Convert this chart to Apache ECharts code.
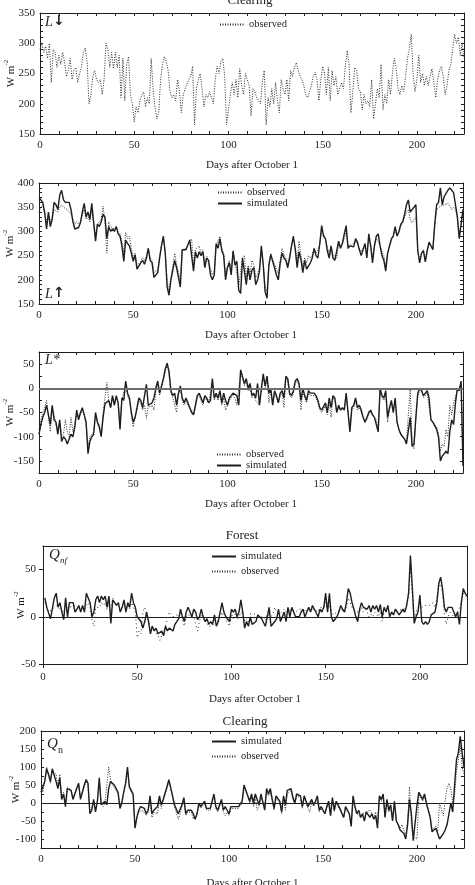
<!DOCTYPE html>
<html><head><meta charset="utf-8">
<script src="https://cdn.jsdelivr.net/npm/echarts@6/dist/echarts.min.js"></script>
<style>html,body{margin:0;padding:0;background:#fff}#c{width:475px;height:885px}</style>
</head><body><div id="c"></div>
<script>
// ---------- data (daily values) ----------
const xTickLabels = [0, 50, 100, 150, 200];

// Panel 1: L-down, clearing, observed (days 0..225)
const lDownStart = 0;
const lDownObs = [290,300,285,295,275,300,235,290,285,260,
280,265,285,270,245,255,275,240,255,260,
235,250,260,285,292,270,200,215,245,255,
240,235,240,215,240,300,290,260,285,258,
285,260,280,210,275,205,265,278,215,200,
170,195,185,205,215,220,195,210,200,275,
225,195,175,185,240,265,278,270,255,220,
210,215,205,240,220,185,215,225,225,240,
245,262,165,225,240,250,225,195,215,210,
220,210,200,240,262,250,270,275,245,165,
190,215,235,215,240,210,258,230,215,250,
248,230,180,225,220,210,205,200,235,255,
165,210,195,225,200,235,205,185,240,225,
215,240,205,255,245,260,268,255,245,240,
230,215,210,220,230,245,252,240,205,240,
262,250,215,260,205,255,230,245,215,225,
235,225,260,288,265,185,220,260,255,225,
220,190,215,200,205,195,240,175,200,225,
210,265,190,215,200,240,215,250,275,260,
225,215,230,220,245,275,290,315,250,220,
240,280,235,250,230,245,230,245,258,235,
210,240,255,262,245,215,230,255,265,290,
315,300,310,280,300,275];
const p1YLabels = [150, 200, 250, 300, 350];

// Panel 2: L-up (days 0..225)
const lUpStart = 0;
const lUpSim = [370,368,360,340,305,340,310,325,360,355,
345,375,385,365,360,360,360,345,320,305,
305,308,318,340,358,330,340,325,358,355,
280,315,310,320,335,330,285,310,300,305,
300,310,295,290,270,238,282,275,270,255,
238,252,222,220,235,240,232,245,265,240,
235,205,205,215,245,270,290,255,185,168,
200,220,240,225,205,185,262,262,262,265,
282,285,218,258,245,258,250,258,225,245,
240,210,200,210,275,265,285,260,250,200,
225,235,210,260,230,238,178,172,245,248,
190,225,200,220,225,190,200,218,270,230,
175,162,230,252,238,225,210,200,235,255,
245,240,225,245,270,290,262,225,258,242,
215,240,222,225,235,245,265,250,245,275,
312,290,285,260,245,270,245,240,238,280,
265,275,295,312,265,270,270,268,285,278,
262,250,248,275,245,295,270,235,270,290,
295,270,250,240,218,255,270,285,290,310,
290,300,315,320,335,355,365,340,345,342,
355,260,235,255,260,237,260,278,275,262,
315,355,360,390,355,372,370,385,390,385,
380,380,330,285,285,345];
const lUpObs = [340,350,355,335,320,335,320,330,345,345,
340,350,355,350,350,345,340,335,325,315,
320,315,320,335,345,325,330,320,345,345,
290,315,315,325,352,320,255,320,310,310,
305,310,300,295,280,255,298,285,290,265,
245,255,230,228,238,245,240,250,265,245,
240,215,212,220,248,272,285,258,195,178,
205,228,255,232,215,198,262,265,265,268,
280,285,230,262,262,270,255,262,235,248,
245,222,210,218,270,268,290,265,255,210,
228,240,220,258,238,242,188,185,245,250,
205,230,212,240,232,205,212,225,262,235,
185,175,235,255,242,232,222,212,240,265,
252,245,232,250,268,285,268,240,280,250,
228,245,235,250,245,252,265,255,252,272,
300,295,285,268,255,268,252,248,245,275,
268,272,285,300,270,272,272,270,280,278,
265,258,255,272,255,285,272,248,268,285,
288,272,258,250,228,255,268,280,290,300,
292,298,310,318,330,340,345,325,318,315,
330,262,240,255,262,242,262,275,275,265,
310,345,348,352,348,355,352,358,352,345,
350,345,330,290,290,340];
const p2YLabels = [150, 200, 250, 300, 350, 400];

// Panel 3: L* (days 0..225)
const lStarStart = 0;
const lStarSim = [-95,-75,-60,-50,-35,-38,-75,-35,-65,-70,
-95,-65,-110,-100,-105,-115,-118,-95,-100,-80,
-45,-65,-50,-40,-55,-70,-135,-110,-100,-95,
-50,-70,-80,-100,-60,-32,-35,-25,-40,-15,
-35,-15,-30,-85,-20,-25,15,-10,-20,-50,
-70,-60,-40,-20,-25,-40,-15,8,-35,-35,
-30,-20,0,15,-10,5,20,40,52,35,
-5,-15,-10,-35,-10,5,-20,-30,-20,-30,
-40,-50,-55,-35,-15,-10,-20,-30,-15,-20,
-30,-25,20,-20,-10,-20,-5,-30,-10,-25,
-35,-20,-15,-10,-10,-15,-35,38,38,10,
20,0,10,-15,-10,-20,10,-35,0,30,
5,25,-10,0,-35,-5,-15,-30,-10,-5,
-20,25,20,-10,-15,-5,15,20,10,-25,
0,-15,-25,-5,-10,-10,-10,-15,-25,-40,
-45,-45,-30,-50,-20,-40,-15,-20,-50,-35,
-45,-40,-45,-10,-50,-90,-40,-35,-20,-40,
-35,-45,-60,-70,-70,-50,-45,-55,-60,-60,
-90,0,-15,-20,-5,-60,-40,-25,-50,-20,
-70,-85,-95,-100,-105,-115,-115,-60,-120,-115,
-60,-10,0,-5,-15,-15,-5,-20,-65,-70,
-70,-85,-100,-150,-140,-140,-130,-135,-90,-65,
-75,-30,0,-5,15,-160];
const lStarObs = [-85,-65,-50,-40,-25,-25,-90,-40,-55,-75,
-85,-70,-100,-95,-65,-90,-100,-60,-90,-75,
-50,-60,-55,-45,-55,-75,-120,-100,-95,-90,
-55,-70,-75,-95,-50,-20,12,-25,-40,-20,
-35,-20,-30,-70,-25,-25,10,-15,-25,-55,
-80,-60,-45,-25,-30,-45,-35,-62,-35,-40,
-35,-45,-5,10,-15,0,15,35,48,30,
-10,-20,-20,-50,-15,0,-25,-35,-25,-35,
-40,-45,-55,-40,-20,-15,-25,-35,-20,-25,
-30,-30,15,-25,-15,-25,-10,-35,-20,-45,
-35,-25,-20,-15,-20,-35,-35,35,35,5,
15,-5,5,-20,-15,-25,-25,-35,-5,25,
0,20,-30,-5,-35,-10,-20,-30,-15,-10,
-40,20,15,-15,-20,-10,10,15,5,-45,
-5,-20,-30,-10,-15,-15,-15,-20,-30,-45,
-50,-45,-35,-55,-30,-60,-20,-25,-50,-40,
-45,-45,-40,-15,-50,-80,-45,-40,-25,-45,
-40,-50,-60,-70,-65,-55,-50,-55,-60,-65,
-85,-5,-20,-25,-10,-70,-45,-30,-50,-25,
-70,-85,-95,-100,-100,-110,-110,0,-115,-125,
-60,-15,-5,0,-20,-20,-10,-40,-65,-70,
-70,-80,-95,-130,-115,-120,-85,-100,-35,-55,
-30,-30,-5,-5,10,-160];
const p3YLabels = [-150, -100, -50, 0, 50];

// Panel 4: Forest Q_nf (days 1..225)
const qnfStart = 1;
const qnfSim = [20,10,8,-2,0,20,25,10,15,5,
-3,20,0,15,15,15,5,8,12,5,
12,5,25,27,15,0,5,18,22,15,
22,18,22,10,22,-7,18,15,12,15,
5,10,18,5,15,10,25,15,10,0,
0,-5,-12,-5,5,-5,-18,-10,-15,-12,
-18,-20,-15,-20,-10,-15,-12,-10,-15,-8,
-5,-2,8,0,-5,5,10,5,0,8,
5,-3,0,8,0,-5,-2,-8,-5,-8,
2,-10,-5,5,15,5,0,2,-5,8,
5,8,0,5,18,5,-12,-5,-10,0,
-8,-10,-5,2,0,-2,0,-10,0,10,
-10,-8,-5,-2,8,-5,0,5,-5,10,
0,10,8,0,2,0,5,8,0,5,
10,5,12,8,10,0,8,5,10,25,
5,25,0,-5,-5,0,5,12,8,5,
15,30,25,15,8,0,-5,8,15,10,
12,8,12,5,12,8,12,5,13,0,
10,5,12,0,5,2,8,5,2,5,
8,5,12,25,65,30,-7,0,5,23,
-5,-8,-5,-8,-5,2,0,5,15,35,
42,30,10,5,10,8,10,5,0,5,
-8,15,30,25,22];
const qnfObs = [15,10,5,5,8,10,12,10,8,8,
5,10,8,10,12,12,10,10,8,8,
10,8,12,15,10,-3,-10,10,12,10,
15,12,15,8,15,5,20,15,12,12,
8,10,12,8,12,8,15,10,5,-22,
-15,-18,5,10,8,-5,-10,-8,-15,-15,
-20,-25,-20,-15,-10,-10,5,3,0,0,
2,-2,5,-2,-10,0,3,0,-2,0,
-8,-15,-5,2,-2,-5,-5,-10,-8,-10,
-2,-8,-3,0,5,0,-3,-2,-10,3,
-2,3,-3,0,5,2,-5,-2,-5,3,
3,3,3,2,2,0,2,-3,3,3,
0,3,10,5,5,3,5,8,5,10,
5,8,8,5,5,8,8,8,5,8,
10,8,10,8,8,5,10,8,10,15,
8,12,5,2,3,5,5,8,8,5,
10,20,15,10,8,5,3,5,10,5,
8,5,0,3,0,5,3,0,5,-5,
5,3,8,10,5,5,8,5,3,8,
5,8,10,20,55,25,-5,5,10,12,
10,12,12,10,12,10,15,10,12,30,
35,25,5,-8,0,5,5,0,0,5,
10,15,25,22,20];
const p4YLabels = [-50, 0, 50];

// Panel 5: Clearing Q_n (days 0..225)
const qnStart = 0;
const qnSim = [30,25,60,95,80,60,95,100,60,40,
70,10,25,-10,40,35,35,10,5,40,
55,10,30,50,65,55,-30,-20,10,-25,
5,70,-5,-5,5,-5,40,60,55,50,
40,30,-15,0,30,55,100,45,35,25,
-70,-40,-20,-10,-10,-15,-30,-20,20,-30,
-20,-20,-10,20,-5,10,10,45,65,60,
20,-5,0,-30,-25,-5,15,-30,-20,-25,
-20,-30,-45,-30,0,-10,-10,5,-15,-20,
-15,-10,25,-10,-20,-15,10,-20,-10,-20,
-30,-10,-5,-10,-5,-10,-10,5,50,35,
30,5,25,0,25,10,-5,25,30,-20,
40,25,40,10,-15,20,15,5,-25,20,
-5,35,30,40,15,0,25,20,20,-10,
20,5,-10,-5,10,-5,5,20,-20,-10,
-10,-30,-10,5,-35,15,-20,5,0,-15,
-20,-40,-10,-15,-30,-65,20,-10,-30,-20,
-40,-30,-50,-25,-30,-40,-30,-45,-35,-70,
20,10,25,-40,10,-20,-5,-50,5,-50,
-60,-75,-80,-85,-100,-60,10,-30,-105,-100,
-5,30,25,10,25,0,5,-40,-80,-75,
-70,-85,-100,-100,-85,-75,-60,-30,0,-25,
50,120,140,185,140,100];
const qnObs = [40,30,65,100,75,55,90,95,80,45,
80,20,30,0,45,40,35,15,10,40,
50,15,30,45,60,50,-25,-15,5,-20,
5,60,0,-10,0,0,100,65,50,45,
35,25,-10,5,30,50,90,40,30,20,
-65,-40,-25,-20,-20,-20,-35,-25,10,-40,
-25,-25,-30,10,-15,5,5,40,60,55,
15,-10,-10,-45,-30,-10,10,-35,-25,-30,
-25,-45,-40,-30,-5,-15,-15,0,-20,-25,
-20,-15,20,-15,-25,-20,5,-25,-35,-25,
-35,-15,-10,-15,-10,-15,-20,0,45,30,
20,0,15,-10,15,-20,-10,15,20,-10,
30,20,30,5,-20,15,10,0,-30,10,
-20,25,25,35,10,-5,20,15,15,-15,
15,0,-15,-25,5,-10,0,10,-25,-15,
-20,-30,-15,0,-35,10,-25,0,-5,-20,
-25,-40,-15,-20,-30,-60,15,-15,-30,-25,
-40,-30,-35,-25,-30,-20,-30,-40,-25,-60,
15,5,20,-35,5,-25,-10,-45,0,-50,
-55,-70,-60,-75,-90,-55,45,-60,-95,-90,
-100,25,20,5,20,-5,0,-35,-75,-70,
-65,-80,0,5,-35,10,40,55,40,0,
20,90,120,160,100,80];
const p5YLabels = [-100, -50, 0, 50, 100, 150, 200];

// ---------- chart ----------
const FONT = '"Liberation Serif", "Times New Roman", serif';
const INK = '#1e1e1e';
const toPairs = (start, vals) => vals.map((v, i) => [start + i, v]);

const panels = [
  { grid:{left:40,top:13,width:424,height:121}, yMin:150, yMax:350, yStep:10, yLabels:p1YLabels, yNameGap:23, xNameGap:26, ticksOut:false,
    series:[{name:'observed', start:lDownStart, data:lDownObs, dash:[1,1.5]}],
    legend:{left:219, top:19, itemGap:0, data:['observed']}, zero:null },
  { grid:{left:39,top:183,width:424,height:121}, yMin:150, yMax:400, yStep:10, yLabels:p2YLabels, yNameGap:23, xNameGap:26, ticksOut:false,
    series:[{name:'observed', start:lUpStart, data:lUpObs, dash:[1,1.5]},{name:'simulated', start:lUpStart, data:lUpSim}],
    legend:{left:217, top:187, itemGap:0, data:['observed','simulated']}, zero:null },
  { grid:{left:39,top:352,width:424,height:121}, yMin:-175, yMax:75, yStep:25, yLabels:p3YLabels, yNameGap:23, xNameGap:26, ticksOut:false,
    series:[{name:'observed', start:lStarStart, data:lStarObs, dash:[1,1.5]},{name:'simulated', start:lStarStart, data:lStarSim}],
    legend:{left:216, top:449, itemGap:0, data:['observed','simulated']}, zero:{color:'#6e6e6e', width:2} },
  { grid:{left:43,top:546,width:424,height:118}, yMin:-50, yMax:75, yStep:25, yLabels:p4YLabels, yNameGap:16, xNameGap:30, ticksOut:true,
    series:[{name:'observed', start:qnfStart, data:qnfObs, dash:[1,3]},{name:'simulated', start:qnfStart, data:qnfSim}],
    legend:{left:211, top:551, itemGap:4, data:['simulated','observed']}, zero:{color:INK, width:1} },
  { grid:{left:41,top:731,width:423,height:117}, yMin:-125, yMax:200, yStep:25, yLabels:p5YLabels, yNameGap:19, xNameGap:30, ticksOut:false,
    series:[{name:'observed', start:qnStart, data:qnObs, dash:[1,1.5]},{name:'simulated', start:qnStart, data:qnSim}],
    legend:{left:211, top:736, itemGap:4, data:['simulated','observed']}, zero:{color:INK, width:1} }
];

const txt = {fontFamily:FONT, fontSize:11, color:INK};
const grid = [], xAxis = [], yAxis = [], series = [], legend = [];

panels.forEach((p, i) => {
  grid.push(Object.assign({containLabel:false, outerBoundsMode:'none'}, p.grid));
  const line = {show:true, onZero:false, lineStyle:{color:INK, width:1}};
  const tickIn = {show:true, inside:true, length:3, lineStyle:{color:INK, width:1}};
  const xTick = p.ticksOut ? {show:true, inside:false, length:4, customValues:xTickLabels, lineStyle:{color:INK}} : tickIn;
  const yTick = p.ticksOut ? {show:true, inside:false, length:4, customValues:p.yLabels, lineStyle:{color:INK}} : tickIn;
  xAxis.push({gridIndex:i, type:'value', position:'bottom', min:0, max:225, interval:10,
    axisLine:line, axisTick:xTick, splitLine:{show:false},
    axisLabel:{customValues:xTickLabels, margin:p.ticksOut ? 8 : 6, ...txt},
    name:'Days after October 1', nameLocation:'middle', nameGap:p.xNameGap, nameMoveOverlap:false, nameTextStyle:{...txt}});
  xAxis.push({gridIndex:i, type:'value', position:'top', min:0, max:225, interval:10,
    axisLine:line, axisTick:p.ticksOut ? {show:false} : tickIn, axisLabel:{show:false}, splitLine:{show:false}});
  yAxis.push({gridIndex:i, type:'value', position:'left', min:p.yMin, max:p.yMax, interval:p.yStep,
    axisLine:line, axisTick:yTick, splitLine:{show:false},
    axisLabel:{customValues:p.yLabels, margin:p.ticksOut ? 7 : 5, ...txt},
    name:'{a|W m}{s|-2}', nameLocation:'middle', nameGap:p.yNameGap, nameRotate:90, nameMoveOverlap:false,
    nameTextStyle:{rich:{a:{fontFamily:FONT, fontSize:11, color:INK, lineHeight:14, verticalAlign:'bottom'},
                         s:{fontFamily:FONT, fontSize:7, color:INK, lineHeight:14, verticalAlign:'top', padding:[0,0,6,0]}}}});
  yAxis.push({gridIndex:i, type:'value', position:'right', min:p.yMin, max:p.yMax, interval:p.yStep,
    axisLine:line, axisTick:p.ticksOut ? {show:false} : tickIn, axisLabel:{show:false}, splitLine:{show:false}});
  p.series.forEach((s, k) => {
    const dotted = !!s.dash;
    const ser = {type:'line', name:s.name, xAxisIndex:2*i, yAxisIndex:2*i, data:toPairs(s.start, s.data),
      symbol:'none', showSymbol:false, animation:false, silent:true, z: dotted ? 2 : 3,
      lineStyle:{color: dotted ? '#2a2a2a' : INK, width: dotted ? 1 : 1.4, type: dotted ? s.dash : 'solid'},
      itemStyle:{color: dotted ? '#2a2a2a' : INK}};
    if (k === 0 && p.zero) {
      ser.markLine = {silent:true, symbol:'none', animation:false, label:{show:false},
        lineStyle:{color:p.zero.color, width:p.zero.width, type:'solid'}, data:[{yAxis:0}]};
    }
    series.push(ser);
  });
  legend.push({orient:'vertical', left:p.legend.left, top:p.legend.top, itemWidth:24, itemHeight:10,
    itemGap:p.legend.itemGap, padding:0, selectedMode:false, data:p.legend.data,
    itemStyle:{opacity:0},
    textStyle:{fontFamily:FONT, fontSize:10.5, color:INK}});
});

const T = (x, y, text, font, extra) => ({type:'text', x, y, silent:true,
  style:Object.assign({text, font, fill:INK}, extra || {})});
const graphic = [
  T(250, -6, 'Clearing', '13px ' + FONT, {textAlign:'center'}),
  T(242, 529, 'Forest', '13px ' + FONT, {textAlign:'center'}),
  T(245, 715, 'Clearing', '13px ' + FONT, {textAlign:'center'}),
  T(45, 15, 'L', 'italic 14px ' + FONT),
  T(53, 14, '↓', 'bold 14px "DejaVu Sans", sans-serif'),
  T(45, 287, 'L', 'italic 14px ' + FONT),
  T(53, 286, '↑', 'bold 14px "DejaVu Sans", sans-serif'),
  T(45, 353, 'L*', 'italic 14px ' + FONT),
  T(49, 548, 'Q', 'italic 15px ' + FONT),
  T(60, 556, 'nf', 'italic 9px ' + FONT),
  T(47, 737, 'Q', 'italic 15px ' + FONT),
  T(58, 745, 'n', '10px ' + FONT)
];

const chart = echarts.init(document.getElementById('c'), null, {renderer:'canvas'});
chart.setOption({backgroundColor:'#fff', animation:false, grid, xAxis, yAxis, series, legend, graphic});
</script>
</body></html>
